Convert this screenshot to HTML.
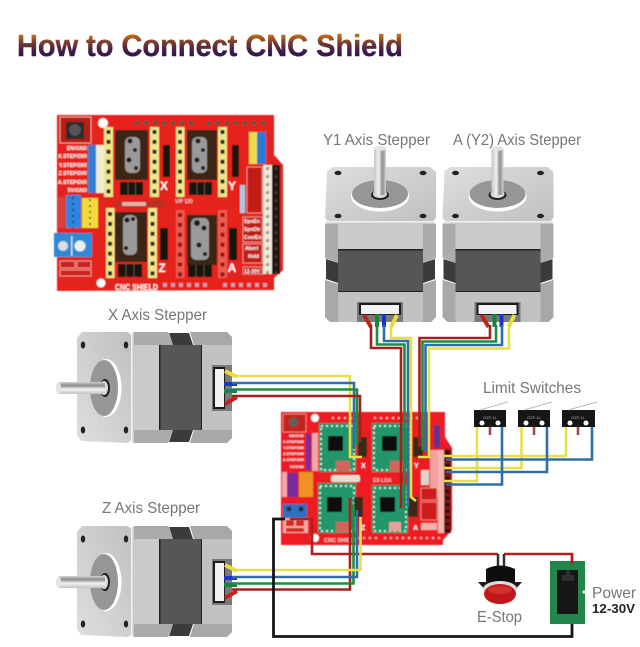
<!DOCTYPE html>
<html><head><meta charset="utf-8"><title>How to Connect CNC Shield</title>
<style>html,body{margin:0;padding:0;background:#fff}svg{display:block}</style></head>
<body>
<svg xmlns="http://www.w3.org/2000/svg" width="640" height="647" viewBox="0 0 640 647" font-family="'Liberation Sans',sans-serif">
<defs>
<linearGradient id="tg" gradientUnits="userSpaceOnUse" x1="0" y1="32" x2="0" y2="58"><stop offset="0" stop-color="#dc8218"/><stop offset=".4" stop-color="#7a3c2c"/><stop offset=".75" stop-color="#3f1c4c"/><stop offset="1" stop-color="#2c1450"/></linearGradient>
<linearGradient id="sh" x1="0" y1="0" x2="1" y2="0"><stop offset="0" stop-color="#c4c4c4"/><stop offset=".4" stop-color="#f2f2f2"/><stop offset=".7" stop-color="#8d8d8d"/><stop offset="1" stop-color="#d2d2d2"/></linearGradient>
<linearGradient id="pl" x1="0" y1="0" x2="1" y2="1"><stop offset="0" stop-color="#dedede"/><stop offset="1" stop-color="#c0c0c0"/></linearGradient>
<filter id="b" x="-5%" y="-5%" width="110%" height="110%"><feGaussianBlur stdDeviation="0.55"/></filter>
<filter id="b2" x="-5%" y="-5%" width="110%" height="110%"><feGaussianBlur stdDeviation="0.35"/></filter>
<g id="motor">
<polygon points="327,171 333,167 430,167 436,172 436,218 433,221 328,221 325,218" fill="url(#pl)"/>
<ellipse cx="380" cy="196" rx="29" ry="15.5" fill="#fff"/>
<ellipse cx="380" cy="194" rx="28" ry="14" fill="#969696"/>
<ellipse cx="380" cy="195" rx="9" ry="5" fill="#222"/>
<ellipse cx="380" cy="194" rx="7" ry="4" fill="#ddd"/>
<rect x="374" y="148" width="12" height="47" fill="url(#sh)"/>
<ellipse cx="380" cy="148.500" rx="6" ry="2.500" fill="#e4e4e4"/>
<ellipse cx="338" cy="173" rx="3.500" ry="2.200" fill="#222"/><ellipse cx="423" cy="173" rx="3.500" ry="2.200" fill="#222"/>
<ellipse cx="338" cy="216" rx="3.500" ry="2.200" fill="#222"/><ellipse cx="423" cy="216" rx="3.500" ry="2.200" fill="#222"/>
<polygon points="328,221 433,221 436,224 436,258 423,263 423,250 339,250 339,263 325,258 325,224" fill="#cacaca"/>
<polygon points="325,224 338,224 338,263 325,258" fill="#ababab"/><polygon points="423,224 436,224 436,258 423,263" fill="#ababab"/>
<rect x="325" y="221" width="111" height="1.500" fill="#f2f2f2"/>
<polygon points="326,259 338,263 338,283 326,279" fill="#3a3a3a"/><polygon points="423,263 435,259 435,279 423,283" fill="#3a3a3a"/>
<rect x="338" y="250" width="85" height="42" fill="#565656"/>
<rect x="338" y="249" width="85" height="1.500" fill="#222"/><rect x="338" y="291" width="85" height="1.500" fill="#222"/>
<polygon points="325,280 338,284 338,292 423,292 423,284 436,280 436,317 431,322 330,322 325,317" fill="#c2c2c2"/>
<polygon points="325,280 338,284 338,322 330,322 325,317" fill="#a8a8a8"/><polygon points="423,284 436,280 436,317 431,322 423,322" fill="#a8a8a8"/>
<rect x="357" y="302" width="46" height="20" fill="#7a7a7a"/>
<rect x="359" y="303" width="42" height="12" fill="#1c1c1c"/>
<rect x="361" y="305" width="38" height="9" fill="#f3f3f3"/>
<path d="M364,315 L371,327" stroke="#c3221f" stroke-width="4"/>
<path d="M377,314 V327" stroke="#14853a" stroke-width="4"/>
<path d="M384,314 V327" stroke="#1d35c8" stroke-width="4"/>
<path d="M397,315 L391,327" stroke="#e9dd3c" stroke-width="4"/>
</g>
</defs>
<rect width="640" height="647" fill="#fff"/>

<text x="17" y="56" font-size="31" font-weight="bold" fill="url(#tg)" stroke="url(#tg)" stroke-width=".4" textLength="386" lengthAdjust="spacingAndGlyphs" filter="url(#b2)">How to Connect CNC Shield</text>

<g fill="#767676" font-size="16" filter="url(#b2)">
<text x="323" y="145" textLength="107" lengthAdjust="spacingAndGlyphs">Y1 Axis Stepper</text>
<text x="453" y="145" textLength="128" lengthAdjust="spacingAndGlyphs">A (Y2) Axis Stepper</text>
<text x="108" y="320" textLength="99" lengthAdjust="spacingAndGlyphs">X Axis Stepper</text>
<text x="102" y="513" textLength="98" lengthAdjust="spacingAndGlyphs">Z Axis Stepper</text>
<text x="483" y="393" textLength="98" lengthAdjust="spacingAndGlyphs">Limit Switches</text>
<text x="477" y="622" textLength="45" lengthAdjust="spacingAndGlyphs">E-Stop</text>
<text x="592" y="598" textLength="44" lengthAdjust="spacingAndGlyphs">Power</text>
<text x="592" y="613" font-size="13" font-weight="bold" fill="#222" textLength="43" lengthAdjust="spacingAndGlyphs">12-30V</text>
</g>

<!-- Top shield -->
<g filter="url(#b)">
<polygon points="57,115 274,115 274,155 283,165 283,270 274,278 274,290 57,291" fill="#e5211c"/>
<rect x="60" y="117" width="31" height="26" fill="#b81a18" stroke="#e8a098" stroke-width="1"/>
<rect x="66" y="122" width="18" height="17" fill="#2b2b2b"/><circle cx="75" cy="130" r="6" fill="#555"/>
<circle cx="103" cy="123" r="5" fill="#fff"/><circle cx="101" cy="283" r="4.500" fill="#fff"/>
<!-- yellow headers -->
<g fill="#efe58a">
<rect x="104" y="127" width="9" height="70"/><rect x="150" y="127" width="9" height="70"/>
<rect x="176" y="127" width="8.500" height="70"/><rect x="218" y="127" width="9" height="70"/>
<rect x="106" y="208" width="8.500" height="70"/><rect x="148" y="208" width="9" height="70"/>
</g>
<rect x="176" y="210" width="8.500" height="68" fill="#ee5a50"/><rect x="218" y="210" width="9" height="68" fill="#ee5a50"/>
<g stroke="#2a2420" stroke-width="4" stroke-dasharray="4 5.900">
<path d="M108.500,130V197M154.500,130V197M180,130V197M222.500,130V197M110,212V278M152.500,212V278"/>
<path d="M180,213V278M222.500,213V278" stroke="#8e1511"/>
</g>
<!-- driver dark areas -->
<g fill="#3a2818">
<rect x="115" y="130" width="33" height="50"/><rect x="187" y="130" width="30" height="50"/>
<rect x="115" y="212" width="32" height="50"/><rect x="187" y="215" width="30" height="50"/>
</g>
<g fill="#9a9a9a">
<rect x="125" y="137" width="15" height="36" rx="5"/><rect x="192" y="137" width="15" height="36" rx="5"/>
<rect x="123" y="215" width="14" height="40" rx="5"/><rect x="191" y="218" width="18" height="42" rx="5"/>
</g>
<g fill="#1c1c1c">
<circle cx="130" cy="141" r="2.500"/><circle cx="135" cy="150" r="2"/><circle cx="129" cy="160" r="2.500"/><circle cx="136" cy="168" r="2"/>
<circle cx="198" cy="141" r="2.500"/><circle cx="203" cy="150" r="2"/><circle cx="197" cy="160" r="2.500"/><circle cx="203" cy="168" r="2"/>
<circle cx="127" cy="220" r="2.500"/><circle cx="133" cy="219" r="2"/><circle cx="126" cy="248" r="2"/>
<circle cx="197" cy="223" r="3"/><circle cx="204" cy="228" r="2.500"/><circle cx="199" cy="245" r="2.500"/><circle cx="205" cy="254" r="2"/>
</g>
<!-- jumpers -->
<g fill="#17130f">
<rect x="120" y="182" width="23" height="13"/><rect x="189" y="182" width="23" height="13"/>
<rect x="118" y="264" width="24" height="13"/><rect x="188" y="265" width="24" height="12"/>
<rect x="163" y="145" width="7" height="32"/><rect x="232" y="145" width="7" height="32"/>
<rect x="160" y="228" width="8" height="32"/><rect x="229" y="228" width="8" height="32"/>
</g>
<path d="M128,182V195M135.500,182V195M197,182V195M204.500,182V195M126,264V277M134,264V277M196,265V277M204,265V277" stroke="#5c4a3c" stroke-width="1"/>
<!-- axis labels -->
<g fill="#fff" font-size="12" font-weight="bold" text-anchor="middle">
<text x="164" y="190">X</text><text x="232" y="190">Y</text><text x="162" y="272">Z</text><text x="232" y="272">A</text>
</g>
<!-- left labels -->
<g fill="#fff" font-size="5.200" text-anchor="end" font-weight="bold">
<text x="87" y="150">EN/GND</text><text x="87" y="158">X.STEP/DIR</text><text x="87" y="167">Y.STEP/DIR</text>
<text x="87" y="175">Z.STEP/DIR</text><text x="87" y="184">A.STEP/DIR</text><text x="87" y="192">5V/GND</text>
</g>
<rect x="88" y="145" width="8" height="48" fill="#2d7fd0"/><rect x="96" y="145" width="8" height="48" fill="#f0ecd0"/>
<rect x="58" y="197" width="7" height="31" fill="#d8433c"/>
<rect x="66" y="195" width="15" height="33" fill="#2f86dc"/><rect x="82" y="198" width="16" height="30" fill="#f2dc3c"/>
<path d="M73,197V228M90,199V228" stroke="#114" stroke-width="2" stroke-dasharray="2 4" opacity=".6"/>
<rect x="54" y="233" width="38" height="24" fill="#2f8ad6"/>
<circle cx="63" cy="246" r="5" fill="#ddd"/><circle cx="80" cy="246" r="5.500" fill="#eee"/><rect x="71" y="236" width="1.500" height="20" fill="#cde"/>
<rect x="60" y="261" width="15" height="7" fill="#c8201a" stroke="#f3b2a8" stroke-width=".8"/><rect x="77" y="261" width="14" height="7" fill="#c8201a" stroke="#f3b2a8" stroke-width=".8"/>
<rect x="60" y="270" width="31" height="6" fill="#c8201a" stroke="#f3b2a8" stroke-width=".8"/>
<!-- top & bottom pins -->
<path d="M135,123H197M207,123H268" stroke="#554" stroke-width="4" stroke-dasharray="4 5"/>
<path d="M163,285H210M223,285H267" stroke="#d9a" stroke-width="4" stroke-dasharray="4 4"/>
<text x="115" y="290" fill="#fff" font-size="8" font-weight="bold" textLength="43" lengthAdjust="spacingAndGlyphs">CNC SHIELD</text>
<rect x="115" y="201" width="50" height="6" fill="#b4322c"/><rect x="122" y="202" width="24" height="4" fill="#e2b0a8"/>
<text x="175" y="203" fill="#fff" font-size="5">VIP 120</text>
<rect x="240" y="185" width="5" height="28" fill="#9ecde6"/>
<!-- right -->
<rect x="249" y="132" width="8" height="32" fill="#f0dc4c"/><rect x="257" y="132" width="9" height="32" fill="#2d78d2"/>
<rect x="263" y="165" width="9" height="109" fill="#f0eadb"/><rect x="272" y="165" width="8" height="109" fill="#1f1915"/>
<path d="M267.500,167V274M276,167V274" stroke="#6a4a3a" stroke-width="3" stroke-dasharray="3 5" opacity=".55"/>
<rect x="247" y="167" width="15" height="46" fill="#c21b18" stroke="#efa9a0" stroke-width=".8"/>
<rect x="243" y="217" width="19" height="25" fill="#c21b18" stroke="#efa9a0" stroke-width=".8"/>
<rect x="243" y="244" width="19" height="19" fill="#c21b18" stroke="#efa9a0" stroke-width=".8"/>
<rect x="243" y="267" width="19" height="7" fill="#c21b18" stroke="#efa9a0" stroke-width=".8"/>
<g fill="#fff" font-size="5" font-weight="bold"><text x="244" y="223">SpnEn</text><text x="244" y="231">SpnDir</text><text x="244" y="239">CoolEn</text><text x="245" y="250">Abort</text><text x="248" y="258">Hold</text><text x="244" y="273">12-30V</text></g>
</g>

<!-- motors -->
<g filter="url(#b2)">
<use href="#motor"/>
<use href="#motor" transform="translate(117.500,0)"/>
<use href="#motor" transform="matrix(0,-1,1,0,-90,768)"/>
<use href="#motor" transform="matrix(0,-1,1,0,-90,962)"/>
</g>

<!-- Lower shield -->
<g filter="url(#b)">
<polygon points="281,412 445,412 445,437 452,448 452,530 443,540 443,545 281,545" fill="#ec1c24"/>
<rect x="283" y="414" width="23" height="18" fill="#c8231f" stroke="#f0a9a0" stroke-width=".7"/>
<circle cx="293.500" cy="422" r="5" fill="#6a5a5a"/>
<circle cx="315" cy="418" r="4" fill="#fff"/><circle cx="315" cy="538" r="4" fill="#fff"/>
<g fill="#fff" font-size="3.800" text-anchor="end" font-weight="bold">
<text x="304" y="437">EN/GND</text><text x="304" y="443">X.STEP/DIR</text><text x="304" y="449">Y.STEP/DIR</text><text x="304" y="455">Z.STEP/DIR</text><text x="304" y="461">A.STEP/DIR</text><text x="304" y="468">5V/GND</text>
</g>
<rect x="306" y="434" width="5" height="36" fill="#7d2b96"/>
<rect x="312" y="433" width="6" height="38" fill="#f4a6a6"/>
<rect x="287" y="473" width="11" height="24" fill="#7a2b98"/><rect x="299" y="472" width="14" height="25" fill="#ee9224"/>
<rect x="282" y="472" width="5" height="25" fill="#f4a6a6"/>
<rect x="283" y="504" width="24" height="14" fill="#2f6fc0"/>
<circle cx="289" cy="509" r="2.500" fill="#234"/><circle cx="301" cy="509" r="2.500" fill="#234"/>
<rect x="283" y="518" width="25" height="15" fill="#f2a8a0"/>
<rect x="286" y="520" width="8" height="6" fill="#d92a24"/><rect x="296" y="520" width="8" height="6" fill="#d92a24"/><rect x="286" y="528" width="18" height="4" fill="#d92a24"/>
<!-- drivers -->
<g fill="#23956a">
<rect x="319" y="423" width="37" height="49"/><rect x="372" y="423" width="39" height="49"/>
<rect x="318" y="483" width="38" height="50"/><rect x="372" y="485" width="36" height="48"/>
</g>
<g stroke="#dff4e8" stroke-width="1.800" stroke-dasharray="2 3" fill="none">
<rect x="321" y="426" width="33" height="44"/><rect x="374" y="426" width="35" height="44"/>
<rect x="320" y="486" width="34" height="45"/><rect x="374" y="488" width="32" height="43"/>
</g>
<g fill="#0f0f0f">
<rect x="328" y="436" width="15" height="15"/><rect x="382" y="436" width="15" height="15"/>
<rect x="327" y="497" width="15" height="15"/><rect x="380" y="497" width="15" height="15"/>
</g>
<g fill="#d6625c">
<rect x="336" y="461" width="14" height="10"/><rect x="390" y="461" width="14" height="10"/><rect x="336" y="522" width="14" height="10"/><rect x="389" y="522" width="12" height="9" fill="#e8a09c"/>
</g>
<rect x="331" y="475" width="29" height="7" rx="2" fill="#e9ddd4"/>
<text x="373" y="482" fill="#f6c8c0" font-size="5" font-weight="bold">ES LOA</text>
<g fill="#3b2a1c">
<rect x="358" y="437" width="9" height="20"/><rect x="413" y="437" width="10" height="20"/>
<rect x="354" y="497" width="9" height="20"/><rect x="408" y="497" width="10" height="20"/>
</g>
<g fill="#fff" font-size="7" font-weight="bold"><text x="361" y="468">X</text><text x="414" y="468">Y</text><text x="361" y="530">Z</text><text x="413" y="530">A</text></g>
<text x="324" y="542" fill="#f7d0c8" font-size="5.500" font-weight="bold">CNC SHIELD</text>
<path d="M332,418H352M374,418H425M357,538H380M384,538H440" stroke="#f6b8b0" stroke-width="2" stroke-dasharray="2 4"/>
<rect x="434" y="425" width="6" height="23" fill="#62308c"/>
<rect x="430" y="450" width="8" height="48" fill="#f2a0a0"/>
<rect x="438" y="450" width="6" height="83" fill="#f6b8ae"/>
<rect x="444" y="449" width="7" height="84" fill="#7e1614"/>
<path d="M447.500,451V533" stroke="#1a1010" stroke-width="4" stroke-dasharray="3 3.500"/>
<rect x="421" y="488" width="16" height="12" fill="#cc1e1c" stroke="#f2a8a0" stroke-width=".7"/>
<rect x="421" y="502" width="16" height="18" fill="#cc1e1c" stroke="#f2a8a0" stroke-width=".7"/>
<rect x="421" y="523" width="16" height="7" fill="#f3b0a8"/>
<rect x="421" y="470" width="8" height="15" fill="#e0d4c8"/>
</g>

<!-- wires -->
<g fill="none" stroke-width="2.600" stroke-linejoin="miter">
<!-- limit switches -->
<path d="M477,427V481H444M521.500,427V468H444M566,427V456H444" stroke="#e6df4c"/>
<path d="M502,427V484.500H446M547,427V472H446M592,427V459.500H446" stroke="#2f6ea8"/>
<path d="M490,427V435M534,427V435M578,427V435" stroke="#a04a4a"/>
<!-- Y1 -->
<path d="M371,325V348H401V508" stroke="#a3221f"/>
<path d="M377,325V344.500H404.500V510" stroke="#1a8f3d"/>
<path d="M384,325V341H408V507" stroke="#2f6ea8"/>
<path d="M391,325V338H411V497L416,501" stroke="#e6df4c"/>
<!-- A -->
<path d="M490,325V338H419.500V447" stroke="#a3221f"/>
<path d="M496,325V341.500H422.500V450" stroke="#1a8f3d"/>
<path d="M502,325V345H425.500V452" stroke="#2f6ea8"/>
<path d="M509,325V348.500H429V457H418" stroke="#e6df4c"/>
<!-- X -->
<path d="M232,376H350V457H362" stroke="#e6df4c"/>
<path d="M232,383H354V449" stroke="#2f6ea8"/>
<path d="M232,389.500H357V445" stroke="#1a8f3d"/>
<path d="M232,396H360V442" stroke="#a3221f"/>
<!-- red power -->
<path d="M290,519H312V554H498M504,554H572V562" stroke="#b0201e"/>
<!-- Z -->
<path d="M232,589.500H350V498" stroke="#a3221f"/>
<path d="M232,583.500H353.500V505" stroke="#1a8f3d"/>
<path d="M232,577H357V510" stroke="#2f6ea8"/>
<path d="M232,570H360.500V517" stroke="#e6df4c"/>
<!-- black -->
<path d="M285,519H273.500V636.500H572V623" stroke="#151515" stroke-width="2.800"/>
</g>

<!-- limit switch bodies -->
<g filter="url(#b2)">
<g fill="#121212"><rect x="474" y="410" width="32" height="17"/><rect x="518" y="410" width="32" height="17"/><rect x="562" y="410" width="33" height="17"/></g>
<g fill="#fff"><circle cx="482" cy="423" r="2.500"/><circle cx="498" cy="423" r="2.500"/><circle cx="526" cy="423" r="2.500"/><circle cx="542" cy="423" r="2.500"/><circle cx="570" cy="423" r="2.500"/><circle cx="586" cy="423" r="2.500"/></g>
<g fill="#bbb" font-size="4" text-anchor="middle"><text x="490" y="419">OZF-1L</text><text x="534" y="419">OZF-1L</text><text x="578" y="419">OZF-1L</text></g>
<path d="M480,410L508,402M524,410L552,402M568,410L597,402" stroke="#bbb" stroke-width="1"/>
<!-- E-stop -->
<path d="M498,554V566M504,554V566" stroke="#333" stroke-width="2.500"/>
<path d="M486,569Q500,562 515,569V582H486Z" fill="#111"/>
<polygon points="478,582 522,582 513,592 487,592" fill="#1a1a1a"/>
<ellipse cx="500" cy="589" rx="17" ry="8" fill="#ddd"/>
<ellipse cx="500" cy="594" rx="16" ry="10" fill="#c3161b"/>
<ellipse cx="500" cy="590" rx="12" ry="4" fill="#d0302c"/>
<!-- Power -->
<rect x="550" y="561" width="35" height="63" fill="#23854a"/>
<rect x="557" y="570" width="21" height="44" fill="#141414"/>
<path d="M566,570h4v5h4v6h-12v-6h4z" fill="#2f2f2f"/>
<circle cx="584" cy="592" r="1.500" fill="#fff"/>
</g>
<path d="M572,554V564" stroke="#b0201e" stroke-width="2.600"/>
</svg>
</body></html>
